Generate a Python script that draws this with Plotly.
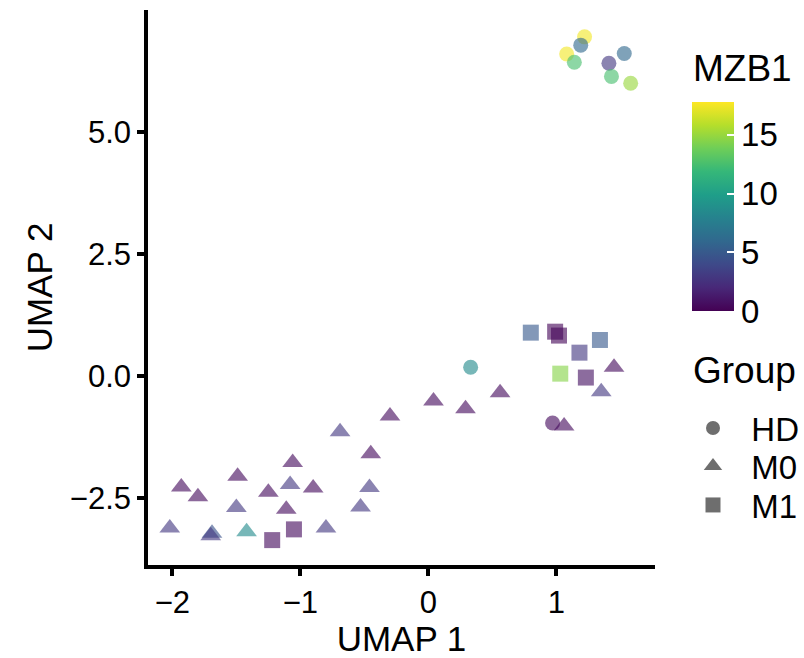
import plotly.graph_objects as go

# ---- data ----
hd_x = [1.22, 1.19, 1.08, 1.14, 1.41, 1.53, 1.43, 1.58, 0.33, 0.97]
hd_y = [6.95, 6.78, 6.60, 6.43, 6.41, 6.61, 6.14, 6.00, 0.18, -0.96]
hd_c = [17.5, 6.0, 17.5, 12.5, 3.0, 6.0, 12.5, 15.0, 8.5, 0.5]

m0_x = [1.45, 1.35, 0.56, 0.29, 0.04, -0.30, -0.69, 1.06, -0.45, -0.46, -0.53, -1.06, -1.49,
        -1.93, -1.80, -1.25, -1.08, -0.90, -1.50, -1.11, -2.02, -1.69, -1.70, -1.42, -0.80]
m0_y = [0.18, -0.32, -0.34, -0.67, -0.51, -0.82, -1.14, -1.02, -1.59, -2.28, -2.68, -1.77, -2.05,
        -2.27, -2.47, -2.38, -2.22, -2.29, -2.69, -2.73, -3.11, -3.22, -3.27, -3.19, -3.11]
m0_c = [0.5, 3.0, 0.5, 0.5, 0.5, 0.5, 3.0, 0.5, 0.5, 3.0, 3.0, 0.5, 0.5,
        0.5, 0.5, 0.5, 3.0, 0.5, 3.0, 0.5, 3.0, 4.5, 3.0, 8.5, 3.0]

m1_x = [0.80, 0.99, 1.02, 1.34, 1.18, 1.03, 1.23, -1.22, -1.05]
m1_y = [0.89, 0.91, 0.83, 0.74, 0.48, 0.05, -0.03, -3.36, -3.14]
m1_c = [5.0, 0.3, 0.3, 5.0, 3.0, 14.5, 0.8, 0.5, 0.5]

groups = ["HD", "M0", "M1"]
symbols = ["circle", "triangle-up", "square"]
sizes = [15, 18, 16]
key_sizes = [14, 16, 15]

x_ticks = [-2, -1, 0, 1]
y_ticks = [-2.5, 0.0, 2.5, 5.0]
cbar_ticks = [0, 5, 10, 15]
cmin, cmax = 0, 17.8

FONT = "Liberation Sans, Arial, sans-serif"
L, R, T, B = 148, 149, 10, 93
PW, PH = 804 - L - R, 658 - T - B


def px_x(px):
    return (px - L) / PW


def px_y(py):
    return (658 - B - py) / PH


fig = go.Figure()
data = [(hd_x, hd_y, hd_c), (m0_x, m0_y, m0_c), (m1_x, m1_y, m1_c)]
for i, ((xs, ys, cs), g, sym, sz) in enumerate(zip(data, groups, symbols, sizes)):
    fig.add_trace(go.Scatter(
        x=xs, y=ys, mode="markers", showlegend=False, name=g,
        marker=dict(symbol=sym, size=sz, color=cs, colorscale="Viridis",
                    cmin=cmin, cmax=cmax, opacity=0.62, line=dict(width=0),
                    showscale=(i == 0),
                    colorbar=dict(
                        thickness=42, thicknessmode="pixels",
                        len=209, lenmode="pixels",
                        x=px_x(692), xanchor="left", xref="paper", xpad=0,
                        y=px_y(311), yanchor="bottom", ypad=0,
                        outlinewidth=0,
                        tickvals=cbar_ticks, ticks="inside", ticklen=7,
                        tickcolor="white", tickwidth=1.5,
                        tickfont=dict(size=33, family=FONT, color="black"),
                    ) if i == 0 else None),
    ))

# legend-only keys, one legend per key so spacing matches the reference
legend_names = ["legend", "legend2", "legend3"]
key_centers = [428, 466, 505]
for g, sym, ks, ln in zip(groups, symbols, key_sizes, legend_names):
    fig.add_trace(go.Scatter(
        x=[None], y=[None], mode="markers", name="\u00a0\u00a0" + g,
        showlegend=True, legend=ln,
        marker=dict(symbol=sym, size=ks, color="#6e6e6e", line=dict(width=0)),
    ))

legend_common = dict(font=dict(size=33, family=FONT, color="black"),
                     xanchor="left", yanchor="middle", itemsizing="trace",
                     bgcolor="rgba(0,0,0,0)")
layout_legends = {}
for ln, cy in zip(legend_names, key_centers):
    layout_legends[ln] = dict(x=px_x(693), y=px_y(cy), **legend_common)

fig.update_layout(
    width=804, height=658,
    margin=dict(l=L, r=R, t=T, b=B, autoexpand=False),
    paper_bgcolor="white", plot_bgcolor="white",
    font=dict(family=FONT, color="black"),
    xaxis=dict(
        range=[-2.19, 1.77], tickvals=x_ticks, showgrid=False, zeroline=False,
        showline=True, linecolor="black", linewidth=3.5,
        ticks="outside", ticklen=7, tickwidth=3.5, tickcolor="black",
        tickfont=dict(size=31, family=FONT, color="black"),
        title=dict(text="UMAP 1", font=dict(size=35, family=FONT, color="black"), standoff=4),
    ),
    yaxis=dict(
        range=[-3.87, 7.5], tickvals=y_ticks, tickformat=".1f", showgrid=False, zeroline=False,
        showline=True, linecolor="black", linewidth=3.5,
        ticks="outside", ticklen=7, tickwidth=3.5, tickcolor="black",
        tickfont=dict(size=31, family=FONT, color="black"),
        title=dict(text="UMAP 2", font=dict(size=35, family=FONT, color="black"), standoff=8),
    ),
    annotations=[
        dict(text="MZB1", xref="paper", yref="paper", x=px_x(691), y=px_y(68.5),
             xanchor="left", yanchor="middle", showarrow=False,
             font=dict(size=37, family=FONT, color="black")),
        dict(text="Group", xref="paper", yref="paper", x=px_x(691), y=px_y(370),
             xanchor="left", yanchor="middle", showarrow=False,
             font=dict(size=37, family=FONT, color="black")),
    ],
    **layout_legends,
)

fig.write_html("out.html")
